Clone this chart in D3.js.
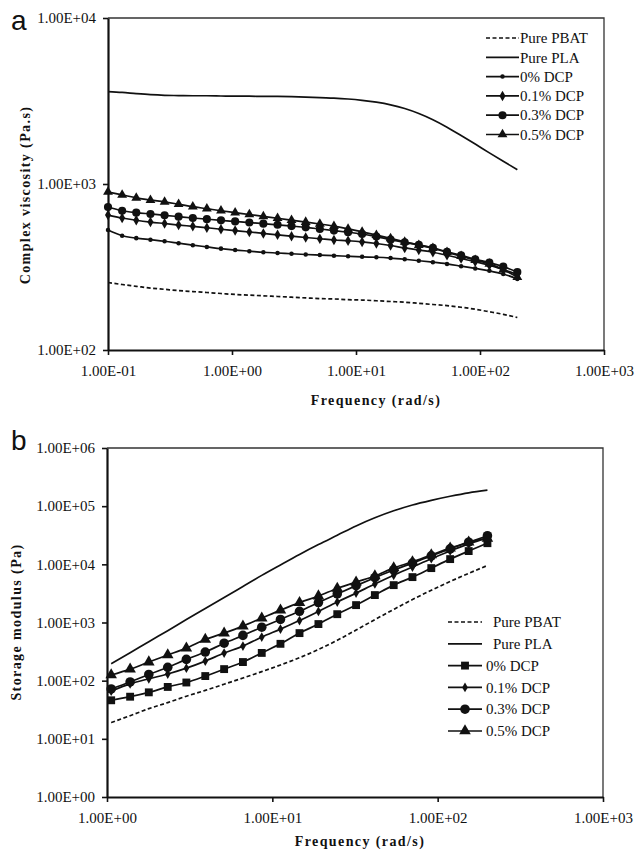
<!DOCTYPE html>
<html>
<head>
<meta charset="utf-8">
<script src="https://cdn.jsdelivr.net/npm/d3@7/dist/d3.min.js"></script>
<style>
	body { margin: 0; background: #fff; }
	svg { display: block; }
</style>
</head>
<body>
<script>

// frequencies (rad/s) of panel a, complex viscosity (Pa.s) of each blend
var freqA = [0.1, 0.13, 0.169, 0.22, 0.286, 0.371, 0.483, 0.627, 0.815, 1.06,
	1.38, 1.79, 2.33, 3.02, 3.93, 5.11, 6.64, 8.63, 11.2, 14.6,
	19.0, 24.7, 32.1, 41.7, 54.2, 70.4, 91.5, 119, 154, 200];
var etaPBAT = [255, 248, 242, 236, 232, 228, 225, 222, 219, 216,
	214, 212, 210, 208, 206, 204, 203, 201, 200, 198,
	196, 194, 191, 188, 185, 181, 176, 170, 164, 157];
var etaPLA = [3600, 3560, 3500, 3450, 3420, 3410, 3400, 3400, 3390, 3380,
	3380, 3370, 3370, 3360, 3340, 3310, 3290, 3250, 3190, 3110,
	3000, 2850, 2660, 2440, 2200, 1960, 1740, 1540, 1370, 1220];
var eta0 = [528, 488, 472, 462, 452, 440, 428, 418, 408, 400,
	394, 388, 384, 380, 376, 373, 370, 367, 364, 362,
	358, 352, 345, 338, 330, 320, 310, 300, 287, 268];
var eta01 = [650, 624, 605, 590, 578, 566, 556, 545, 534, 524,
	514, 504, 494, 485, 476, 468, 460, 455, 448, 438,
	426, 412, 400, 388, 372, 356, 340, 324, 305, 285];
var eta03 = [727, 690, 672, 660, 648, 636, 624, 614, 604, 595,
	586, 577, 568, 558, 548, 536, 524, 512, 500, 482,
	462, 445, 430, 412, 390, 372, 352, 336, 318, 295];
var eta05 = [895, 860, 825, 800, 780, 755, 730, 710, 690, 672,
	655, 638, 622, 606, 590, 574, 557, 537, 515, 492,
	470, 448, 428, 410, 388, 368, 348, 330, 305, 275];

// frequencies (rad/s) of panel b, storage modulus (Pa) of each blend
var freqB = [1.06, 1.38, 1.79, 2.33, 3.02, 3.93, 5.11, 6.64, 8.63, 11.2,
	14.6, 19.0, 24.7, 32.1, 41.7, 54.2, 70.4, 91.5, 119, 154, 200];
var gPBAT = [19, 25, 33, 42, 54, 68, 87, 111, 143, 186,
	248, 343, 495, 741, 1122, 1679, 2483, 3589, 5070, 6998, 9550];
var gPLA = [195, 302, 468, 724, 1122, 1738, 2692, 4169, 6457, 9772,
	14791, 21878, 31623, 45709, 63096, 83176, 104713, 125893, 147911, 169824, 188365];
var g0 = [46, 53, 63, 78, 93, 120, 158, 209, 300, 430,
	657, 940, 1390, 1990, 2960, 4390, 6030, 8610, 12300, 16900, 23100];
var g01 = [66, 88, 108, 130, 164, 217, 298, 393, 561, 770,
	1080, 1550, 2250, 3200, 4600, 6500, 9000, 12500, 17000, 22500, 28500];
var g03 = [72, 95, 128, 170, 232, 310, 440, 600, 830, 1130,
	1560, 2200, 3100, 4300, 5900, 8000, 10500, 14000, 18500, 24000, 31000];
var g05 = [125, 158, 209, 276, 363, 510, 657, 867, 1190, 1630,
	2200, 2850, 3850, 4950, 6300, 8700, 11000, 14500, 19000, 24000, 28000];

// series names and tick labels
var seriesNames = ["Pure PBAT", "Pure PLA", "0% DCP", "0.1% DCP", "0.3% DCP", "0.5% DCP"];
var xTicksA = [0.1, 1, 10, 100, 1000];
var xLabelsA = ["1.00E-01", "1.00E+00", "1.00E+01", "1.00E+02", "1.00E+03"];
var yTicksA = [100, 1000, 10000];
var yLabelsA = ["1.00E+02", "1.00E+03", "1.00E+04"];
var xTicksB = [1, 10, 100, 1000];
var xLabelsB = ["1.00E+00", "1.00E+01", "1.00E+02", "1.00E+03"];
var yTicksB = [1, 10, 100, 1000, 10000, 100000, 1000000];
var yLabelsB = ["1.00E+00", "1.00E+01", "1.00E+02", "1.00E+03", "1.00E+04", "1.00E+05", "1.00E+06"];

var serif = "'Liberation Serif', 'Times New Roman', serif";
var ink = "#111";

var svg = d3.select("body").append("svg")
	.attr("width", 635)
	.attr("height", 851);

/**
* Draws one log-log panel: axes, frame, lines with markers and legend.
**/
function drawPanel(cfg) {
	var x = d3.scaleLog().domain(cfg.xDomain).range([cfg.left, cfg.right]);
	var y = d3.scaleLog().domain(cfg.yDomain).range([cfg.bottom, cfg.top]);
	var g = svg.append("g");

	// thin frame on top and right
	g.append("path")
		.attr("d", "M" + cfg.left + "," + cfg.top + "H" + cfg.right + "V" + cfg.bottom)
		.attr("fill", "none")
		.attr("stroke", "#333")
		.attr("stroke-width", 1.3);

	// axes
	var xAxis = g.append("g")
		.attr("transform", "translate(0," + cfg.bottom + ")")
		.call(d3.axisBottom(x).tickValues(cfg.xTicks).tickSize(5).tickSizeOuter(0)
			.tickFormat(function(d, i) { return cfg.xLabels[i]; }));
	xAxis.selectAll(".tick text").attr("y", 12).attr("dy", "0.9em");

	var yAxis = g.append("g")
		.attr("transform", "translate(" + cfg.left + ",0)")
		.call(d3.axisLeft(y).tickValues(cfg.yTicks).tickSize(5).tickSizeOuter(0)
			.tickFormat(function(d, i) { return cfg.yLabels[i]; }));
	yAxis.selectAll(".tick text").attr("x", -12);

	[xAxis, yAxis].forEach(function(a) {
		a.attr("font-family", serif).attr("font-size", 15);
		a.select(".domain").attr("stroke", ink).attr("stroke-width", 2.2);
		a.selectAll(".tick line").attr("stroke", ink).attr("stroke-width", 1.6);
		a.selectAll(".tick text").style("font-family", serif).attr("fill", ink);
	});

	// axis titles and panel letter
	g.append("text")
		.attr("x", cfg.xTitlePos[0])
		.attr("y", cfg.xTitlePos[1])
		.attr("text-anchor", "middle")
		.style("font-family", serif)
		.style("font-weight", "bold")
		.style("font-size", "14px")
		.style("letter-spacing", "1.4px")
		.attr("fill", ink)
		.text("Frequency  (rad/s)");

	g.append("text")
		.attr("transform", "translate(" + cfg.yTitlePos[0] + "," + cfg.yTitlePos[1] + ") rotate(-90)")
		.attr("text-anchor", "middle")
		.attr("dy", "0.35em")
		.style("font-family", serif)
		.style("font-weight", "bold")
		.style("font-size", "14px")
		.style("letter-spacing", "1.4px")
		.attr("fill", ink)
		.text(cfg.yTitle);

	g.append("text")
		.attr("x", 11)
		.attr("y", cfg.letterY)
		.style("font-family", "'Liberation Sans', Arial, sans-serif")
		.style("font-size", "28px")
		.attr("fill", ink)
		.text(cfg.letter);

	var line = d3.line()
		.curve(d3.curveMonotoneX)
		.x(function(d) { return x(d[0]); })
		.y(function(d) { return y(d[1]); });

	cfg.series.forEach(function(s, k) {
		var pts = cfg.freq.map(function(f, i) { return [f, s[i]]; });

		g.append("path")
			.datum(pts)
			.attr("d", line)
			.attr("fill", "none")
			.attr("stroke", ink)
			.attr("stroke-width", 1.7)
			.attr("stroke-dasharray", k == 0 ? "4,2.5" : null);

		if (cfg.symbols[k]) {
			g.selectAll(".m" + k)
				.data(pts)
				.enter().append("path")
				.attr("class", "m" + k)
				.attr("transform", function(d) { return "translate(" + x(d[0]) + "," + y(d[1]) + ")"; })
				.attr("d", d3.symbol().type(cfg.symbols[k][0]).size(cfg.symbols[k][1]))
				.attr("fill", ink);
		}
	});

	// legend
	var legend = g.selectAll(".legend")
		.data(seriesNames)
		.enter().append("g")
		.attr("class", "legend")
		.attr("transform", function(d, i) {
			return "translate(" + cfg.legX + "," + (cfg.legY + i * cfg.legStep) + ")";
		});

	legend.append("line")
		.attr("x1", 0)
		.attr("x2", cfg.legLen)
		.attr("stroke", ink)
		.attr("stroke-width", 1.7)
		.attr("stroke-dasharray", function(d, i) { return i == 0 ? "4,2.5" : null; });

	legend.filter(function(d, i) { return cfg.symbols[i]; })
		.append("path")
		.attr("transform", "translate(" + (cfg.legLen / 2) + ",0)")
		.attr("d", function(d, i) {
			var s = cfg.symbols[i + 2];
			return d3.symbol().type(s[0]).size(s[1])();
		})
		.attr("fill", ink);

	legend.append("text")
		.attr("x", function(d, i) { return i < 2 ? cfg.legText[0] : cfg.legText[1]; })
		.attr("dy", "0.35em")
		.style("font-family", serif)
		.style("font-size", "15px")
		.attr("fill", ink)
		.text(function(d) { return d; });
}

// panel a: complex viscosity
drawPanel({
	letter: "a", letterY: 30,
	left: 108, right: 604, top: 18, bottom: 350,
	xDomain: [0.1, 1000], yDomain: [100, 10000],
	xTicks: xTicksA, xLabels: xLabelsA, yTicks: yTicksA, yLabels: yLabelsA,
	xTitlePos: [376, 405], yTitlePos: [25, 195],
	yTitle: "Complex viscosity  (Pa.s)",
	freq: freqA,
	series: [etaPBAT, etaPLA, eta0, eta01, eta03, eta05],
	symbols: [null, null, [d3.symbolCircle, 16], [d3.symbolDiamond, 32],
		[d3.symbolCircle, 52], [d3.symbolTriangle, 42]],
	legX: 486, legY: 38, legStep: 19.3, legLen: 33, legText: [34, 34]
});

// panel b: storage modulus
drawPanel({
	letter: "b", letterY: 450,
	left: 107, right: 603, top: 448, bottom: 797,
	xDomain: [1, 1000], yDomain: [1, 1000000],
	xTicks: xTicksB, xLabels: xLabelsB, yTicks: yTicksB, yLabels: yLabelsB,
	xTitlePos: [360, 846], yTitlePos: [16, 622],
	yTitle: "Storage modulus (Pa)",
	freq: freqB,
	series: [gPBAT, gPLA, g0, g01, g03, g05],
	symbols: [null, null, [d3.symbolSquare, 62], [d3.symbolDiamond, 28],
		[d3.symbolCircle, 72], [d3.symbolTriangle, 58]],
	legX: 448, legY: 622, legStep: 21.8, legLen: 34, legText: [45, 38]
});

</script>
</body>
</html>
